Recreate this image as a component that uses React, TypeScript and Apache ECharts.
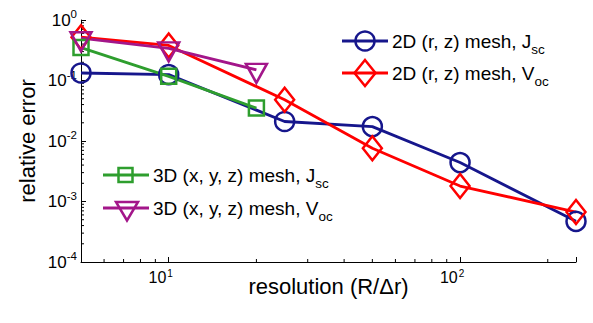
import React, { useEffect, useRef } from "react";
import * as echarts from "echarts";

const xFine = [5, 10, 25, 50, 100, 250];
const xCoarse = [5, 10, 20];
const jsc2D = [0.133, 0.125, 0.021, 0.0173, 0.0044, 0.00047];
const voc2D = [0.52, 0.38, 0.048, 0.0076, 0.0018, 0.00067];
const jsc3D = [0.35, 0.117, 0.035];
const voc3D = [0.5, 0.34, 0.15];

const xMinorTicks = [6, 7, 8, 9, 20, 30, 40, 50, 60, 70, 80, 90, 200];
const yMinorTicks = [
  2e-4, 3e-4, 4e-4, 5e-4, 6e-4, 7e-4, 8e-4, 9e-4,
  2e-3, 3e-3, 4e-3, 5e-3, 6e-3, 7e-3, 8e-3, 9e-3,
  2e-2, 3e-2, 4e-2, 5e-2, 6e-2, 7e-2, 8e-2, 9e-2,
  2e-1, 3e-1, 4e-1, 5e-1, 6e-1, 7e-1, 8e-1, 9e-1,
];

const BLUE = "#16168c";
const RED = "#ff0000";
const GREEN = "#2e9e2e";
const PURPLE = "#a3168a";
const FONT = "'Liberation Sans', Arial, Helvetica, sans-serif";

const pow10Label = (v: number) => {
  const e = Math.log10(v);
  if (Math.abs(e - Math.round(e)) > 1e-6) return "";
  return "{b|10}{e|" + Math.round(e) + "}";
};

export default function App() {
  const ref = useRef<HTMLDivElement>(null);
  useEffect(() => {
    if (!ref.current) return;
    const chart = echarts.init(ref.current, null, { renderer: "svg" });
    const lineSeries = (
      name: string,
      xs: number[],
      ys: number[],
      color: string,
      symbol: string,
      size: any,
      extra: any = {}
    ) => ({
      name,
      type: "line",
      data: xs.map((x, i) => [x, ys[i]]),
      symbol,
      symbolSize: size,
      showAllSymbol: true,
      lineStyle: { color, width: 2.8 },
      itemStyle: { color: "transparent", borderColor: color, borderWidth: 2.5 },
      emphasis: { disabled: true },
      ...extra,
    });
    const minorData = [
      ...xMinorTicks.map((v) => [v, 1e-4, 0]),
      ...yMinorTicks.map((v) => [5, v, 1]),
    ];
    const legendRow = (
      x0: number,
      y: number,
      color: string,
      marker: any,
      text: string
    ) => [
      {
        type: "line",
        shape: { x1: x0, y1: y, x2: x0 + 46, y2: y },
        style: { stroke: color, lineWidth: 2.8 },
      },
      marker,
      {
        type: "text",
        x: x0 + 50,
        y,
        style: {
          text,
          fill: "#000",
          fontSize: 19,
          fontFamily: FONT,
          verticalAlign: "middle",
          rich: {
            s: { fontSize: 13.5, fontFamily: FONT, padding: [16, 0, 0, 0] },
          },
        },
      },
    ];
    const option: any = {
      animation: false,
      grid: { left: 81, right: 17, top: 20, bottom: 61 },
      xAxis: {
        type: "log",
        logBase: 10,
        min: 5,
        max: 250,
        name: "resolution (R/\u0394r)",
        nameLocation: "middle",
        nameGap: 13,
        nameMoveOverlap: false,
        nameTextStyle: { fontSize: 22, fontFamily: FONT, color: "#000" },
        axisLine: { lineStyle: { color: "#000", width: 1 } },
        axisTick: { inside: true, length: 5, lineStyle: { color: "#000" } },
        splitLine: { show: false },
        minorTick: { show: false },
        axisLabel: {
          margin: 6,
          formatter: pow10Label,
          color: "#000",
          rich: {
            b: { fontSize: 16, fontFamily: FONT, color: "#000" },
            e: { fontSize: 10, fontFamily: FONT, color: "#000", padding: [0, 16, 8, 1] },
          },
        },
      },
      yAxis: {
        type: "log",
        logBase: 10,
        min: 1e-4,
        max: 1,
        name: "relative error",
        nameLocation: "middle",
        nameGap: 43,
        nameMoveOverlap: false,
        nameTextStyle: { fontSize: 22, fontFamily: FONT, color: "#000" },
        axisLine: { lineStyle: { color: "#000", width: 1 } },
        axisTick: { inside: true, length: 5, lineStyle: { color: "#000" } },
        splitLine: { show: false },
        axisLabel: {
          margin: 4,
          formatter: pow10Label,
          color: "#000",
          rich: {
            b: { fontSize: 17, fontFamily: FONT, color: "#000" },
            e: { fontSize: 11.5, fontFamily: FONT, color: "#000", padding: [0, 0, 12, 0] },
          },
        },
      },
      series: [
        {
          type: "custom",
          silent: true,
          z: 1,
          clip: false,
          data: minorData,
          renderItem: (_p: any, api: any) => {
            const pt = api.coord([api.value(0), api.value(1)]);
            const horiz = api.value(2) === 1;
            return {
              type: "line",
              shape: horiz
                ? { x1: pt[0], y1: pt[1], x2: pt[0] + 3, y2: pt[1] }
                : { x1: pt[0], y1: pt[1], x2: pt[0], y2: pt[1] - 3 },
              style: { stroke: "#000", lineWidth: 1 },
            };
          },
        },
        lineSeries("2D (r, z) mesh, Jsc", xFine, jsc2D, BLUE, "circle", 19),
        lineSeries("2D (r, z) mesh, Voc", xFine, voc2D, RED, "diamond", [19, 24]),
        lineSeries("3D (x, y, z) mesh, Jsc", xCoarse, jsc3D, GREEN, "rect", 15),
        lineSeries("3D (x, y, z) mesh, Voc", xCoarse, voc3D, PURPLE, "triangle", [21, 19], {
          symbolRotate: 180,
          symbolOffset: [0, 3.5],
        }),
      ],
      graphic: [
        ...legendRow(342, 41, BLUE, {
          type: "circle",
          shape: { cx: 365, cy: 41, r: 9.5 },
          style: { fill: "none", stroke: BLUE, lineWidth: 2.5 },
        }, "2D (r, z) mesh, J{s|sc}"),
        ...legendRow(342, 73, RED, {
          type: "polygon",
          shape: { points: [[365, 60], [375.5, 73], [365, 86], [354.5, 73]] },
          style: { fill: "none", stroke: RED, lineWidth: 2.5 },
        }, "2D (r, z) mesh, V{s|oc}"),
        ...legendRow(103, 175, GREEN, {
          type: "rect",
          shape: { x: 118.5, y: 168, width: 14, height: 14 },
          style: { fill: "none", stroke: GREEN, lineWidth: 2.5 },
        }, "3D (x, y, z) mesh, J{s|sc}"),
        ...legendRow(103, 208, PURPLE, {
          type: "polygon",
          shape: { points: [[116, 202], [138, 202], [127, 220.5]] },
          style: { fill: "none", stroke: PURPLE, lineWidth: 2.5 },
        }, "3D (x, y, z) mesh, V{s|oc}"),
      ],
    };
    chart.setOption(option);
    return () => chart.dispose();
  }, []);
  return (
    <div
      ref={ref}
      style={{ position: "fixed", left: 0, top: 0, width: 593, height: 323, background: "#fff" }}
    />
  );
}
